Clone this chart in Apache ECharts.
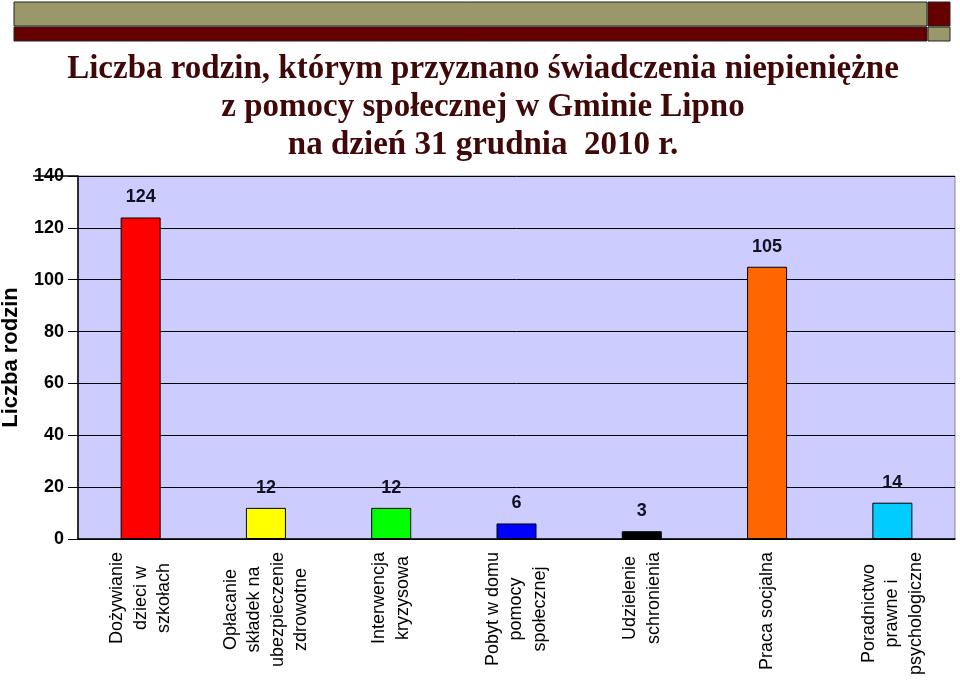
<!DOCTYPE html>
<html>
<head>
<meta charset="utf-8">
<script src="https://cdn.jsdelivr.net/npm/echarts@6/dist/echarts.min.js"></script>
<style>
  html, body { margin: 0; padding: 0; background: #fff; }
  #chart { width: 960px; height: 684px; }
</style>
</head>
<body>
<div id="chart"></div>
<script>
// dane z wykresu
const categories = [
  'Dożywianie\ndzieci w\nszkołach',
  'Opłacanie\nskładek na\nubezpieczenie\nzdrowotne',
  'Interwencja\nkryzysowa',
  'Pobyt w domu\npomocy\nspołecznej',
  'Udzielenie\nschronienia',
  'Praca socjalna',
  'Poradnictwo\nprawne i\npsychologiczne'
];
const values = [124, 12, 12, 6, 3, 105, 14];
const barColors = ['#ff0000', '#ffff00', '#00ff00', '#0000ff', '#000000', '#ff6600', '#00ccff'];
const titleLines = [
  'Liczba rodzin, którym przyznano świadczenia niepieniężne',
  'z pomocy społecznej w Gminie Lipno',
  'na dzień 31 grudnia  2010 r.'
];

const chart = echarts.init(document.getElementById('chart'));

const option = {
  backgroundColor: '#ffffff',
  animation: false,
  title: {
    text: titleLines.join('\n'),
    left: 478,
    top: 45,
    textAlign: 'center',
    textStyle: {
      fontFamily: 'Liberation Serif',
      fontSize: 33,
      fontWeight: 'bold',
      color: '#400808',
      lineHeight: 38
    }
  },
  grid: {
    left: 78,
    right: 5,
    top: 176,
    bottom: 145,
    outerBoundsMode: 'none',
    containLabel: false,
    show: true,
    backgroundColor: '#ccccff',
    borderColor: '#888888',
    borderWidth: 1
  },
  xAxis: {
    type: 'category',
    data: categories,
    axisLine: { lineStyle: { color: '#000', width: 1.5 } },
    axisTick: { inside: true, length: 8, lineStyle: { color: '#000' } },
    axisLabel: {
      interval: 0,
      rotate: 90,
      margin: 13,
      color: '#000',
      fontFamily: 'Liberation Sans',
      fontSize: 18,
      formatter: function (v) {
        return v.split('\n').map(function (s) { return '{c|' + s + '}'; }).join('\n');
      },
      rich: {
        c: {
          align: 'center',
          fontFamily: 'Liberation Sans',
          fontSize: 18,
          lineHeight: 23.5,
          color: '#000'
        }
      }
    }
  },
  yAxis: {
    type: 'value',
    min: 0,
    max: 140,
    interval: 20,
    name: 'Liczba rodzin',
    nameLocation: 'middle',
    nameGap: 56,
    nameTextStyle: {
      fontFamily: 'Liberation Sans',
      fontSize: 22,
      fontWeight: 'bold',
      color: '#000'
    },
    axisLine: { show: true, lineStyle: { color: '#000', width: 1.5 } },
    axisTick: { show: true, length: 10, lineStyle: { color: '#000' } },
    axisLabel: {
      margin: 14,
      color: '#000',
      fontFamily: 'Liberation Sans',
      fontSize: 18,
      fontWeight: 'bold'
    },
    splitLine: { show: true, lineStyle: { color: '#000', width: 1 } }
  },
  series: [
    {
      type: 'bar',
      barWidth: 40,
      data: values.map(function (v, i) {
        return { value: v, itemStyle: { color: barColors[i] } };
      }),
      itemStyle: { borderColor: '#000', borderWidth: 1 },
      label: {
        show: true,
        position: 'top',
        distance: 11,
        color: '#111122',
        fontFamily: 'Liberation Sans',
        fontSize: 18,
        fontWeight: 'bold'
      }
    }
  ],
  graphic: [
    // pasek dekoracyjny u góry
    { type: 'rect', shape: { x: 14, y: 2, width: 913, height: 24 }, style: { fill: '#9a9868', stroke: '#222', lineWidth: 1 } },
    { type: 'rect', shape: { x: 14, y: 27, width: 913, height: 14 }, style: { fill: '#660000', stroke: '#222', lineWidth: 1 } },
    { type: 'rect', shape: { x: 928, y: 2, width: 22, height: 24 }, style: { fill: '#660000', stroke: '#222', lineWidth: 1 } },
    { type: 'rect', shape: { x: 928, y: 27, width: 22, height: 14 }, style: { fill: '#9a9868', stroke: '#222', lineWidth: 1 } },
    { type: 'line', z: 100, shape: { x1: 33, y1: 176, x2: 78, y2: 176 }, style: { stroke: '#000', lineWidth: 1.5 } }
  ]
};

chart.setOption(option);
</script>
</body>
</html>
